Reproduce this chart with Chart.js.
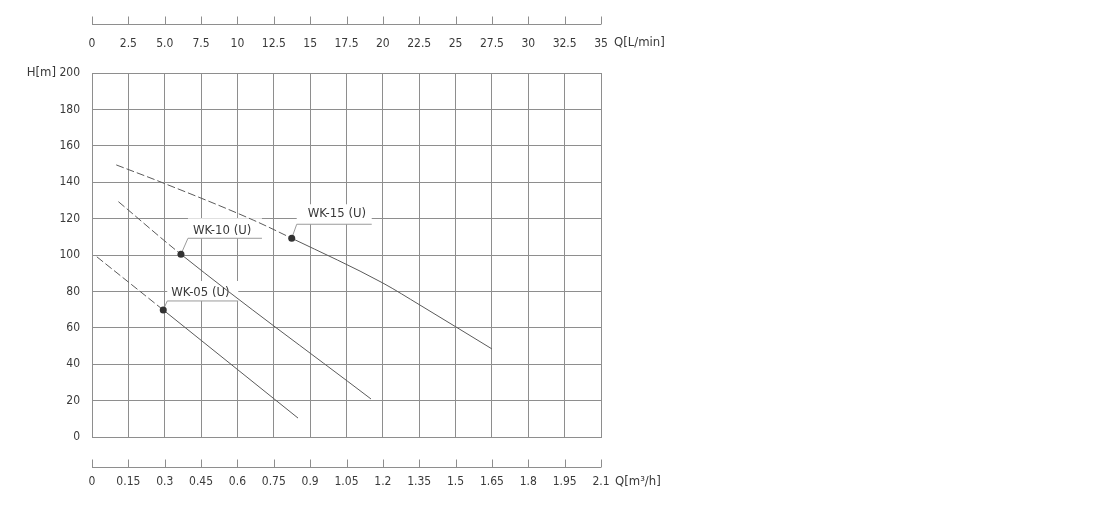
<!DOCTYPE html>
<html>
<head>
<meta charset="utf-8">
<script src="https://cdn.jsdelivr.net/npm/chart.js@4/dist/chart.umd.min.js"></script>
<style>body{margin:0;background:#fff}</style>
</head>
<body>
<canvas id="pump" width="1100" height="522"></canvas>
<script>
// flow axis in m3/h (bottom) and L/min (top), head axis in m
const flowTicks = [0, 0.15, 0.3, 0.45, 0.6, 0.75, 0.9, 1.05, 1.2, 1.35, 1.5, 1.65, 1.8, 1.95, 2.1]
const flowLabels = ['0', '0.15', '0.3', '0.45', '0.6', '0.75', '0.9', '1.05', '1.2', '1.35', '1.5', '1.65', '1.8', '1.95', '2.1']
const lpmTicks = [0, 2.5, 5, 7.5, 10, 12.5, 15, 17.5, 20, 22.5, 25, 27.5, 30, 32.5, 35]
const lpmLabels = ['0', '2.5', '5.0', '7.5', '10', '12.5', '15', '17.5', '20', '22.5', '25', '27.5', '30', '32.5', '35']
const headTicks = [0, 20, 40, 60, 80, 100, 120, 140, 160, 180, 200]

// pump curves (Q m3/h, H m); rated point is where the curve turns solid
const models = ['WK-05 (U)', 'WK-10 (U)', 'WK-15 (U)']
const wk05Q = [0.02, 0.294, 0.85]
const wk05H = [99, 69.8, 10.4]
const wk10Q = [0.109, 0.367, 1.151]
const wk10H = [129.3, 100.4, 20.9]
const wk15Q = [0.10, 0.28, 0.665, 0.824, 1.2, 1.353, 1.5, 1.65]
const wk15H = [149.5, 140.3, 119.2, 109.2, 84.6, 72.5, 60.6, 48.4]
const ratedIndex = [1, 1, 3]

const FONT = "'Liberation Sans Narrow', 'DejaVu Sans Condensed', sans-serif"
const GRID = '#8e8e8e'
const TEXT = '#3a3a3a'

// label callouts: leader offset, underline length, text offset (pixels from rated dot)
const callouts = [
    { dx: 4, dy: -9, len: 71, tx: 8, ty: -17 },
    { dx: 7, dy: -16, len: 74, tx: 12, ty: -24 },
    { dx: 5, dy: -14, len: 75, tx: 16, ty: -25 }
]

const curves = [[wk05Q, wk05H], [wk10Q, wk10H], [wk15Q, wk15H]]

const datasets = curves.map(function (c, i) {
    const rated = ratedIndex[i]
    return {
        label: models[i],
        data: c[0].map(function (q, k) { return { x: q, y: c[1][k] } }),
        borderColor: '#5a5a5a',
        borderWidth: 1,
        pointRadius: function (ctx) { return ctx.dataIndex === rated ? 3.5 : 0 },
        pointBackgroundColor: '#333',
        pointBorderColor: '#333',
        pointBorderWidth: 0,
        cubicInterpolationMode: 'monotone',
        segment: {
            borderDash: function (ctx) { return ctx.p0DataIndex < rated ? [8, 3] : undefined }
        }
    }
})

function setTicks(values) {
    return function (scale) { scale.ticks = values.map(function (v) { return { value: v } }) }
}

const decor = {
    id: 'decor',
    beforeDatasetsDraw: function (chart) {
        const ctx = chart.ctx
        const x = chart.scales.x, y = chart.scales.y
        ctx.save()
        ctx.font = '13px ' + FONT
        ctx.textBaseline = 'middle'
        ctx.textAlign = 'left'
        curves.forEach(function (c, i) {
            const r = ratedIndex[i]
            const px = x.getPixelForValue(c[0][r])
            const py = y.getPixelForValue(c[1][r])
            const o = callouts[i]
            ctx.fillStyle = '#fff'
            ctx.fillRect(px + o.dx, py + o.dy - 20, o.len, 20)
            ctx.strokeStyle = '#9a9a9a'
            ctx.lineWidth = 1
            ctx.beginPath()
            ctx.moveTo(px, py)
            ctx.lineTo(px + o.dx, py + o.dy)
            ctx.lineTo(px + o.dx + o.len, py + o.dy)
            ctx.stroke()
            ctx.fillStyle = TEXT
            ctx.fillText(models[i], px + o.tx, py + o.ty)
        })
        ctx.restore()
    },
    afterDraw: function (chart) {
        const ctx = chart.ctx
        const x = chart.scales.x, x2 = chart.scales.x2
        const area = chart.chartArea
        ctx.save()
        ctx.strokeStyle = GRID
        ctx.lineWidth = 1
        // detached bottom axis
        const yb = Math.round(area.bottom + 30) + 0.5
        ctx.beginPath()
        ctx.moveTo(area.left, yb)
        ctx.lineTo(area.right, yb)
        flowTicks.forEach(function (v) {
            const p = Math.round(x.getPixelForValue(v)) + 0.5
            ctx.moveTo(p, yb)
            ctx.lineTo(p, yb - 8)
        })
        // detached top axis
        const yt = Math.round(area.top - 49) + 0.5
        ctx.moveTo(area.left, yt)
        ctx.lineTo(area.right, yt)
        lpmTicks.forEach(function (v) {
            const p = Math.round(x2.getPixelForValue(v)) + 0.5
            ctx.moveTo(p, yt)
            ctx.lineTo(p, yt - 8)
        })
        ctx.stroke()
        // axis titles
        ctx.fillStyle = TEXT
        ctx.font = '13px ' + FONT
        ctx.textBaseline = 'middle'
        ctx.textAlign = 'left'
        ctx.fillText('Q[m³/h]', area.right + 14, area.bottom + 45)
        ctx.fillText('Q[L/min]', area.right + 13, area.top - 30)
        ctx.textAlign = 'right'
        ctx.fillText('H[m]', area.left - 36, area.top)
        ctx.restore()
    }
}

window.onload = function () {
    let context = document.querySelector('#pump').getContext('2d')
    new Chart(context, {
        type: 'line',
        data: { datasets: datasets },
        plugins: [decor],
        options: {
            responsive: false,
            animation: false,
            layout: { padding: { left: 0, right: 499, top: 0, bottom: 0 } },
            plugins: { legend: { display: false }, tooltip: { enabled: false } },
            scales: {
                x: {
                    type: 'linear', position: 'bottom', min: 0, max: 2.1,
                    afterBuildTicks: setTicks(flowTicks),
                    afterFit: function (s) { s.height = 85 },
                    grid: { color: GRID, drawTicks: false },
                    border: { display: true, color: GRID },
                    ticks: {
                        autoSkip: false, maxRotation: 0, padding: 38, color: TEXT,
                        font: { family: FONT, size: 12 },
                        callback: function (v, i) { return flowLabels[i] }
                    }
                },
                x2: {
                    type: 'linear', position: 'top', min: 0, max: 35,
                    afterBuildTicks: setTicks(lpmTicks),
                    afterFit: function (s) { s.height = 73 },
                    grid: { display: false, drawTicks: false },
                    border: { display: false },
                    ticks: {
                        autoSkip: false, maxRotation: 0, padding: 22, color: TEXT,
                        font: { family: FONT, size: 12 },
                        callback: function (v, i) { return lpmLabels[i] }
                    }
                },
                y: {
                    type: 'linear', min: 0, max: 200,
                    afterBuildTicks: setTicks(headTicks),
                    afterFit: function (s) { s.width = 92 },
                    grid: { color: GRID, drawTicks: false },
                    border: { display: true, color: GRID },
                    ticks: {
                        padding: 12, color: TEXT,
                        font: { family: FONT, size: 12 }
                    }
                }
            }
        }
    })
}
</script>
</body>
</html>
